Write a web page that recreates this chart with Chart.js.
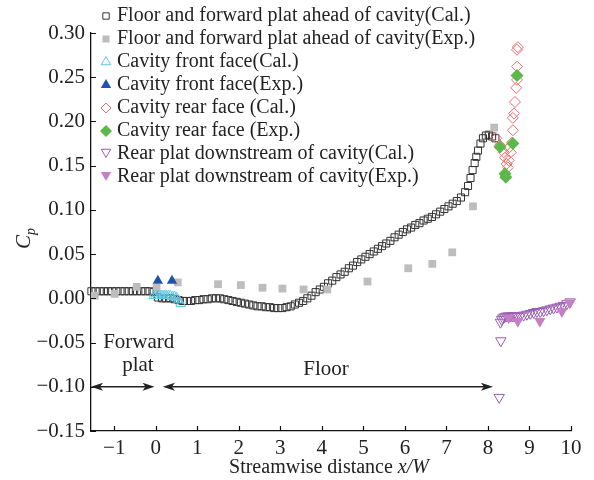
<!DOCTYPE html>
<html>
<head>
<meta charset="utf-8">
<script src="https://cdn.jsdelivr.net/npm/chart.js@4.4.0/dist/chart.umd.min.js"></script>
<style>
  html, body { margin: 0; padding: 0; background: #fff; }
  #wrap { width: 594px; height: 480px; }
</style>
</head>
<body>
<div id="wrap"><canvas id="cpChart" width="594" height="480"></canvas></div>
<script>
// Axis ticks
const xTicks = [-1, 0, 1, 2, 3, 4, 5, 6, 7, 8, 9, 10];
const yTicks = [-0.15, -0.10, -0.05, 0.00, 0.05, 0.10, 0.15, 0.20, 0.25, 0.30];

// Floor and forward plat ahead of cavity (Cal.)
const floorCalX = [-1.55, -1.45, -1.35, -1.25, -1.15, -1.05, -0.95, -0.85, -0.75, -0.65, -0.55, -0.45, -0.35, -0.25, -0.15, -0.05,
    0.05, 0.15, 0.25, 0.35, 0.45, 0.55, 0.65, 0.75, 0.85, 0.95, 1.05, 1.15, 1.25, 1.35, 1.45, 1.55, 1.65, 1.75, 1.85, 1.95,
    2.05, 2.15, 2.25, 2.35, 2.45, 2.55, 2.65, 2.75, 2.85, 2.95, 3.05, 3.15, 3.25, 3.35, 3.45, 3.55, 3.65, 3.75, 3.85, 3.95,
    4.05, 4.15, 4.25, 4.35, 4.45, 4.55, 4.65, 4.75, 4.85, 4.95, 5.05, 5.15, 5.25, 5.35, 5.45, 5.55, 5.65, 5.75, 5.85, 5.95,
    6.05, 6.15, 6.25, 6.35, 6.45, 6.55, 6.65, 6.75, 6.85, 6.95, 7.05, 7.15, 7.25, 7.35, 7.45, 7.52, 7.58, 7.63, 7.68, 7.72,
    7.76, 7.82, 7.88, 7.95, 8.02, 8.10, 8.18];
const floorCalY = [0.008, 0.008, 0.008, 0.008, 0.008, 0.008, 0.008, 0.008, 0.008, 0.008, 0.008, 0.008, 0.008, 0.008, 0.008, 0.007,
    0.001, 0.000, 0.000, 0.000, -0.001, -0.002, -0.003, -0.003, -0.003, -0.002, -0.002, -0.001, -0.001, 0.000, 0.000, 0.000, -0.001, -0.002, -0.003, -0.004,
    -0.005, -0.006, -0.007, -0.008, -0.009, -0.009, -0.010, -0.010, -0.011, -0.011, -0.011, -0.010, -0.009, -0.007, -0.005, -0.003, 0.000, 0.003, 0.007, 0.010,
    0.013, 0.017, 0.020, 0.024, 0.027, 0.030, 0.034, 0.037, 0.041, 0.044, 0.047, 0.050, 0.053, 0.056, 0.059, 0.062, 0.065, 0.069, 0.072, 0.075,
    0.078, 0.080, 0.083, 0.085, 0.088, 0.090, 0.092, 0.095, 0.098, 0.101, 0.104, 0.107, 0.110, 0.114, 0.120, 0.127, 0.136, 0.145, 0.153, 0.160,
    0.167, 0.175, 0.181, 0.184, 0.185, 0.183, 0.181];

// Floor and forward plat ahead of cavity (Exp.)
const floorExpX = [-1.47, -0.99, -0.46, 0.02, 0.53, 1.50, 2.05, 2.57, 3.05, 3.56, 4.13, 5.10, 6.08, 6.66, 7.14, 7.64, 8.15];
const floorExpY = [0.003, 0.005, 0.013, 0.012, 0.018, 0.016, 0.015, 0.012, 0.011, 0.010, 0.010, 0.019, 0.034, 0.039, 0.052, 0.104, 0.193];

// Cavity front face
const frontCalX = [-0.05, 0.00, 0.05, 0.10, 0.15, 0.20, 0.25, 0.30, 0.35, 0.40, 0.45, 0.50, 0.55, 0.60];
const frontCalY = [0.003, 0.003, 0.003, 0.003, 0.003, 0.003, 0.003, 0.003, 0.003, 0.002, 0.002, 0.001, -0.002, -0.006];
const frontExpX = [0.05, 0.39];
const frontExpY = [0.020, 0.020];

// Cavity rear face
const rearCalX = [8.72, 8.70, 8.70, 8.70, 8.68, 8.65, 8.63, 8.60, 8.60, 8.58, 8.55, 8.50, 8.48, 8.45, 8.41, 8.38, 8.29, 8.20, 8.50];
const rearCalY = [0.284, 0.281, 0.262, 0.247, 0.238, 0.222, 0.209, 0.204, 0.190, 0.176, 0.165, 0.156, 0.148, 0.152, 0.159, 0.165, 0.173, 0.181, 0.170];
const rearExpX = [8.70, 8.60, 8.29, 8.41, 8.43];
const rearExpY = [0.252, 0.175, 0.171, 0.141, 0.137];

// Rear plat downstream of cavity
const plateCalX = [8.31, 8.27, 8.30, 8.33, 8.36, 8.40, 8.45, 8.50, 8.55, 8.60, 8.65, 8.70, 8.78, 8.86, 8.94, 9.02, 9.10, 9.18,
    9.26, 9.34, 9.42, 9.50, 9.58, 9.66, 9.74, 9.82, 9.90, 9.98];
const plateCalY = [-0.048, -0.112, -0.027, -0.024, -0.022, -0.021, -0.020, -0.020, -0.020, -0.020, -0.020, -0.020, -0.020, -0.019, -0.018, -0.017, -0.016, -0.015,
    -0.015, -0.014, -0.013, -0.012, -0.011, -0.010, -0.009, -0.008, -0.006, -0.004];
const plateExpX = [8.50, 8.72, 9.25, 9.78, 9.97];
const plateExpY = [-0.022, -0.026, -0.026, -0.015, -0.005];

// Annotations (data coordinates)
const notes = [
    { text: 'Forward', x: -0.41, y: -0.050 },
    { text: 'plat', x: -0.43, y: -0.076 },
    { text: 'Floor', x: 4.10, y: -0.081 }
];
const arrows = [
    { from: -1.56, to: -0.03, y: -0.10 },
    { from: 0.17, to: 8.12, y: -0.10 }
];

const serif = "'Liberation Serif', 'Times New Roman', serif";
const toPoints = (xs, ys) => xs.map((x, i) => ({ x: x, y: ys[i] }));

const series = [
    { label: 'Floor and forward plat ahead of cavity(Cal.)', data: toPoints(floorCalX, floorCalY),
      pointStyle: 'rect', pointRadius: 5, borderColor: '#333333', backgroundColor: 'rgba(0,0,0,0)', pointBorderWidth: 1, legendRadius: 4.5 },
    { label: 'Floor and forward plat ahead of cavity(Exp.)', data: toPoints(floorExpX, floorExpY),
      pointStyle: 'rect', pointRadius: 5.5, borderColor: '#bdbdbd', backgroundColor: '#bdbdbd', pointBorderWidth: 0, legendRadius: 5 },
    { label: 'Cavity front face(Cal.)', data: toPoints(frontCalX, frontCalY),
      pointStyle: 'triangle', pointRadius: 5.5, borderColor: '#5cc8e4', backgroundColor: 'rgba(0,0,0,0)', pointBorderWidth: 1, legendRadius: 5.5 },
    { label: 'Cavity front face(Exp.)', data: toPoints(frontExpX, frontExpY),
      pointStyle: 'triangle', pointRadius: 6, borderColor: '#1f53a8', backgroundColor: '#1f53a8', pointBorderWidth: 0, legendRadius: 6 },
    { label: 'Cavity rear face (Cal.)', data: toPoints(rearCalX, rearCalY),
      pointStyle: 'rectRot', pointRadius: 5.5, borderColor: '#f26d6d', backgroundColor: 'rgba(0,0,0,0)', pointBorderWidth: 1, legendRadius: 5 },
    { label: 'Cavity rear face (Exp.)', data: toPoints(rearExpX, rearExpY),
      pointStyle: 'rectRot', pointRadius: 6.5, borderColor: '#5cb848', backgroundColor: '#5cb848', pointBorderWidth: 0, legendRadius: 6 },
    { label: 'Rear plat downstream of cavity(Cal.)', data: toPoints(plateCalX, plateCalY),
      pointStyle: 'triangle', rotation: 180, pointRadius: 6, borderColor: '#9a5ab2', backgroundColor: 'rgba(0,0,0,0)', pointBorderWidth: 1, legendRadius: 5.5 },
    { label: 'Rear plat downstream of cavity(Exp.)', data: toPoints(plateExpX, plateExpY),
      pointStyle: 'triangle', rotation: 180, pointRadius: 6.5, borderColor: '#c47fc6', backgroundColor: '#c47fc6', pointBorderWidth: 0, legendRadius: 6 }
];

const datasets = series.map((s, i) => ({
    label: s.label,
    data: s.data,
    showLine: false,
    pointStyle: s.pointStyle,
    pointRotation: s.rotation || 0,
    pointRadius: s.pointRadius,
    pointHoverRadius: s.pointRadius,
    pointBorderWidth: s.pointBorderWidth,
    borderColor: s.borderColor,
    backgroundColor: s.backgroundColor,
    clip: false,
    order: series.length - i
}));

// Decorations: inward ticks, axis titles, arrows, notes, legend
const decor = {
    id: 'decor',
    afterDatasetsDraw(chart) {
        const ctx = chart.ctx;
        const xs = chart.scales.x, ys = chart.scales.y;
        const area = chart.chartArea;
        ctx.save();
        ctx.strokeStyle = '#111';
        ctx.lineWidth = 1.2;
        ctx.beginPath();
        xTicks.forEach(v => {
            const px = Math.round(xs.getPixelForValue(v)) + 0.5;
            ctx.moveTo(px, area.bottom);
            ctx.lineTo(px, area.bottom - 5);
        });
        yTicks.forEach(v => {
            const py = Math.round(ys.getPixelForValue(v)) + 0.5;
            ctx.moveTo(area.left, py);
            ctx.lineTo(area.left + 5, py);
        });
        ctx.stroke();

        // arrows
        ctx.fillStyle = '#222';
        ctx.strokeStyle = '#222';
        ctx.lineWidth = 1.5;
        arrows.forEach(a => {
            const x1 = xs.getPixelForValue(a.from), x2 = xs.getPixelForValue(a.to);
            const y = ys.getPixelForValue(a.y);
            ctx.beginPath();
            ctx.moveTo(x1 + 8, y);
            ctx.lineTo(x2 - 8, y);
            ctx.stroke();
            [[x1, 1], [x2, -1]].forEach(([x, d]) => {
                ctx.beginPath();
                ctx.moveTo(x, y);
                ctx.lineTo(x + d * 12, y - 4);
                ctx.lineTo(x + d * 9, y);
                ctx.lineTo(x + d * 12, y + 4);
                ctx.closePath();
                ctx.fill();
            });
        });

        // notes
        ctx.font = '21px ' + serif;
        ctx.textAlign = 'center';
        ctx.textBaseline = 'middle';
        notes.forEach(n => {
            ctx.fillText(n.text, xs.getPixelForValue(n.x), ys.getPixelForValue(n.y));
        });
        ctx.restore();
    },
    afterDraw(chart) {
        const ctx = chart.ctx;
        ctx.save();
        ctx.fillStyle = '#222';

        // x axis title
        const part1 = 'Streamwise distance ';
        const part2 = 'x/W';
        ctx.textBaseline = 'middle';
        ctx.textAlign = 'left';
        ctx.font = '20px ' + serif;
        const w1 = ctx.measureText(part1).width;
        ctx.font = 'italic 20px ' + serif;
        const w2 = ctx.measureText(part2).width;
        const startX = 329 - (w1 + w2) / 2;
        ctx.font = '20px ' + serif;
        ctx.fillText(part1, startX, 468);
        ctx.font = 'italic 20px ' + serif;
        ctx.fillText(part2, startX + w1, 468);

        // y axis title C_p
        ctx.save();
        ctx.translate(30, 240);
        ctx.rotate(-Math.PI / 2);
        ctx.textAlign = 'left';
        ctx.textBaseline = 'alphabetic';
        ctx.font = 'italic 21px ' + serif;
        ctx.fillText('C', -9, 0);
        ctx.font = 'italic 14px ' + serif;
        ctx.fillText('p', 5, 5);
        ctx.restore();

        // legend
        ctx.font = '20px ' + serif;
        ctx.textAlign = 'left';
        ctx.textBaseline = 'middle';
        series.forEach((s, i) => {
            const y = 15 + i * 23;
            ctx.strokeStyle = s.borderColor;
            ctx.fillStyle = s.backgroundColor;
            ctx.lineWidth = 1;
            Chart.helpers.drawPoint(ctx, {
                pointStyle: s.pointStyle,
                radius: s.legendRadius,
                rotation: s.rotation || 0,
                borderWidth: s.pointBorderWidth
            }, 106, y + (s.rotation ? -1 : 1));
            ctx.fillStyle = '#222';
            ctx.fillText(s.label, 117, y + 1);
        });
        ctx.restore();
    }
};

new Chart(document.getElementById('cpChart').getContext('2d'), {
    type: 'scatter',
    data: { datasets: datasets },
    options: {
        responsive: false,
        animation: false,
        devicePixelRatio: 1,
        layout: { padding: { top: 33, right: 23, left: 0, bottom: 0 } },
        plugins: {
            legend: { display: false },
            tooltip: { enabled: false }
        },
        scales: {
            x: {
                type: 'linear',
                min: -1.56,
                max: 10,
                afterFit: scale => { scale.height = 49; },
                afterBuildTicks: scale => { scale.ticks = xTicks.map(v => ({ value: v })); },
                grid: { display: false, drawTicks: false },
                border: { display: true, color: '#111', width: 1.3 },
                ticks: {
                    padding: 5,
                    color: '#222',
                    font: { family: serif, size: 21 },
                    callback: v => String(v).replace('-', '\u2212')
                }
            },
            y: {
                type: 'linear',
                min: -0.15,
                max: 0.30,
                afterFit: scale => { scale.width = 91; },
                afterBuildTicks: scale => { scale.ticks = yTicks.map(v => ({ value: v })); },
                grid: { display: false, drawTicks: false },
                border: { display: true, color: '#111', width: 1.3 },
                ticks: {
                    padding: 6,
                    color: '#222',
                    font: { family: serif, size: 21 },
                    callback: v => v.toFixed(2).replace('-', '\u2212')
                }
            }
        }
    },
    plugins: [decor]
});
</script>
</body>
</html>
